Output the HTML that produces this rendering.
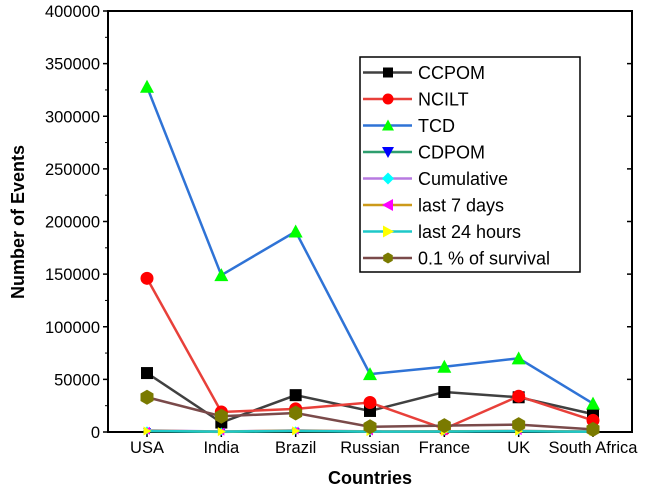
<!DOCTYPE html>
<html><head><meta charset="utf-8"><style>
body{margin:0;background:#fff;}
svg text{font-family:"Liberation Sans",Arial,sans-serif;}
</style></head><body>
<svg id="chart" width="645" height="490">
<g id="axes"></g><g id="series"></g><g id="legend"></g>
</svg>
<script>
const categories=["USA","India","Brazil","Russian","France","UK","South Africa"];
const yTicks=[0,50000,100000,150000,200000,250000,300000,350000,400000];
const ccpom=[56000,9000,35000,20000,38000,33000,17000];
const ncilt=[146000,19000,22000,28000,3000,34000,11000];
const tcd=[328000,149000,190500,55000,62000,70000,27000];
const cdpom=[1000,100,900,400,500,1000,300];
const cumulative=[1500,500,1500,600,700,900,400];
const last7=[1200,400,1300,500,600,800,300];
const last24=[900,300,1100,400,500,700,200];
const survival=[33000,15000,18000,5000,6000,7000,2500];
const series=[
 {name:"CCPOM",data:ccpom,line:"#404040",fill:"#000",m:"square",s:6},
 {name:"NCILT",data:ncilt,line:"#e8403a",fill:"#f00",m:"circle",s:6},
 {name:"TCD",data:tcd,line:"#2f73d6",fill:"#0f0",m:"up",s:6},
 {name:"CDPOM",data:cdpom,line:"#2e9e6e",fill:"#00f",m:"down",s:3},
 {name:"Cumulative",data:cumulative,line:"#b77ae0",fill:"#0ff",m:"diamond",s:3},
 {name:"last 7 days",data:last7,line:"#cc9a1a",fill:"#f0f",m:"left",s:3},
 {name:"last 24 hours",data:last24,line:"#1ec8c8",fill:"#ff0",m:"right",s:3.5},
 {name:"0.1 % of survival",data:survival,line:"#7a4a4a",fill:"#7a7a00",m:"hex",s:7}
];
const L=108,R=632,T=11,B=432;
function x(i){return 147+i*(593-147)/(categories.length-1);}
function y(v){return B-(v/400000)*(B-T);}
const NS="http://www.w3.org/2000/svg";
function mk(tag,attrs,parent,txt){const e=document.createElementNS(NS,tag);for(const k in attrs)e.setAttribute(k,attrs[k]);if(txt!==undefined)e.textContent=txt;parent.appendChild(e);return e;}
const ax=document.getElementById('axes'),sg=document.getElementById('series'),lg=document.getElementById('legend');
let f=mk('rect',{x:L,y:T,width:R-L,height:B-T,fill:'none',stroke:'#000','stroke-width':2},ax);


yTicks.forEach((v,i)=>{
 let t=mk('line',{x1:L-5,x2:L,y1:y(v),y2:y(v),stroke:'#000','stroke-width':1.5},ax);
 
 
 let t2=mk('line',{x1:R,x2:R-5,y1:y(v),y2:y(v),stroke:'#000','stroke-width':1.5},ax);
 
 
 if(i<yTicks.length-1){let m=mk('line',{x1:L-3,x2:L,y1:y(v+25000),y2:y(v+25000),stroke:'#000','stroke-width':1},ax);
 
 }
 let lb=mk('text',{x:L-8,y:y(v)+6,'text-anchor':'end','font-size':16.5},ax,String(v));
 
 
});
categories.forEach((c,i)=>{
 let t=mk('line',{x1:x(i),x2:x(i),y1:B,y2:B+5,stroke:'#000','stroke-width':1.5},ax);
 
 
 let lb=mk('text',{x:x(i),y:453,'text-anchor':'middle','font-size':16.5},ax,c);
 
 
});
let xt=mk('text',{x:370,y:484,'text-anchor':'middle','font-size':18,'font-weight':'bold'},ax,'Countries');


let yt=mk('text',{x:0,y:0,'text-anchor':'middle','font-size':18,'font-weight':'bold',transform:'translate(24,222) rotate(-90)'},ax,'Number of Events');


function marker(p,m,cx,cy,fill,s){
 let e;
 if(m=="square")e=mk('rect',{x:cx-s,y:cy-s,width:2*s,height:2*s,fill:fill},p);
 else if(m=="circle")e=mk('circle',{cx:cx,cy:cy,r:s+0.5,fill:fill},p);
 else if(m=="up")e=mk('polygon',{points:`${cx},${cy-s-1} ${cx-s-1},${cy+s} ${cx+s+1},${cy+s}`,fill:fill},p);
 else if(m=="down")e=mk('polygon',{points:`${cx},${cy+s+1} ${cx-s-1},${cy-s} ${cx+s+1},${cy-s}`,fill:fill},p);
 else if(m=="left")e=mk('polygon',{points:`${cx-s-1},${cy} ${cx+s},${cy-s-1} ${cx+s},${cy+s+1}`,fill:fill},p);
 else if(m=="right")e=mk('polygon',{points:`${cx+s+1},${cy} ${cx-s},${cy-s-1} ${cx-s},${cy+s+1}`,fill:fill},p);
 else if(m=="diamond")e=mk('polygon',{points:`${cx},${cy-s-1} ${cx+s+1},${cy} ${cx},${cy+s+1} ${cx-s-1},${cy}`,fill:fill},p);
 else {let pts=[];for(let k=0;k<6;k++){let a=Math.PI/6+k*Math.PI/3;pts.push((cx+(s+0.5)*Math.cos(a))+','+(cy+(s+0.5)*Math.sin(a)));}e=mk('polygon',{points:pts.join(' '),fill:fill},p);}
 return e;
}
series.forEach(s=>{
 let g=mk('g',{},sg);
 
 
 let pl=mk('polyline',{points:s.data.map((v,i)=>x(i)+','+y(v)).join(' '),fill:'none',stroke:s.line,'stroke-width':2.5},g);
 
 
 s.data.forEach((v,i)=>{let mm=marker(g,s.m,x(i),y(v),s.fill,s.s);
  
  });
});
let lbx=mk('rect',{x:360,y:57,width:220,height:215,fill:'#fff',stroke:'#000','stroke-width':1.5},lg);


series.forEach((s,i)=>{
 let ry=72.5+i*26.5;
 let g=mk('g',{},lg);
 
 
 mk('line',{x1:363,x2:412,y1:ry,y2:ry,stroke:s.line,'stroke-width':2.5},g);
 marker(g,s.m,388,ry,s.fill,5);
 mk('text',{x:418,y:ry+6.5,'font-size':18},g,s.name);
});
</script>
</body></html>
